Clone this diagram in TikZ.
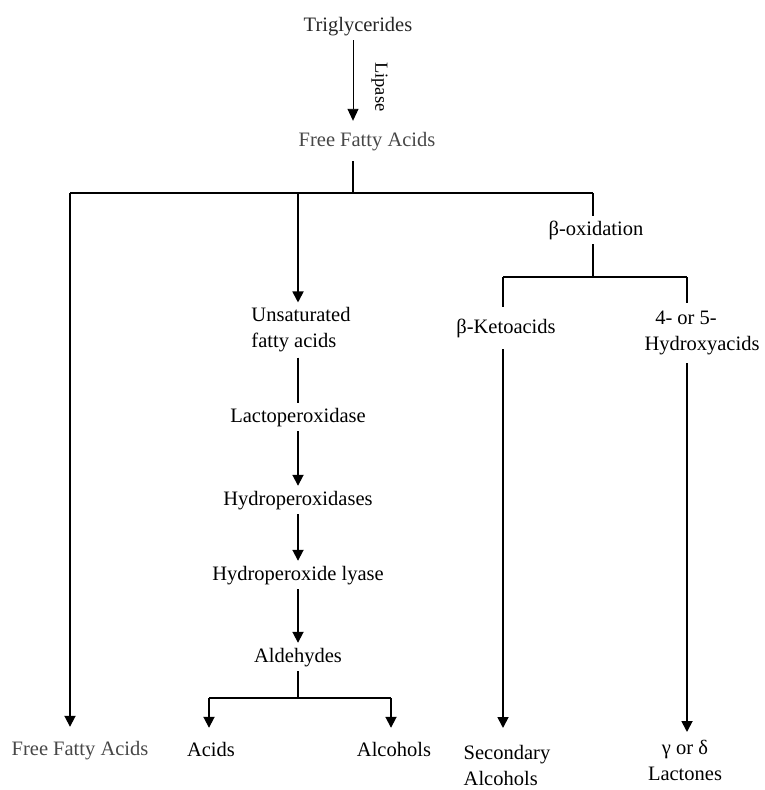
\documentclass[tikz,border=0pt]{standalone}
\usepackage{fontspec}
\setmainfont{Liberation Serif}
\usetikzlibrary{arrows.meta, positioning}

\begin{document}
\begin{tikzpicture}[x=1pt, y=-1pt,
    every node/.style={font=\fontsize{20.5}{26}\selectfont, inner xsep=0pt, inner ysep=5pt},
    lbl/.style={text height=14pt, text depth=4pt, anchor=base},
    conn/.style={line width=1.8pt},
    arr/.style={conn, -{Triangle[width=11pt, length=11pt]}},
    thinarr/.style={line width=0.9pt, -{Triangle[width=11pt, length=12pt]}},
    grey/.style={text=black!72}]
    \useasboundingbox (0,0) rectangle (764,790);

    \node[lbl, text=black!85] (trig) at (358,31) {Triglycerides};
    \node[lbl, grey, inner ysep=11pt] (ffa) at (367,146) {Free Fatty Acids};

    \node[align=left] (unsat) at (301,330) {Unsaturated\\fatty acids};
    \node[lbl] (lacto) at (298,422) {Lactoperoxidase};
    \node[lbl] (hperox) at (298,505) {Hydroperoxidases};
    \node[lbl] (lyase) at (298,580) {Hydroperoxide lyase};
    \node[lbl] (ald) at (298,662) {Aldehydes};

    \node[lbl] (betaox) at (596,235) {β-oxidation};
    \node[lbl, inner ysep=12pt] (keto) at (506,333) {β-Ketoacids};
    \node[align=center, inner ysep=8pt] (hydroxy) at (702,333) {4- or 5-\hspace*{32pt}\\Hydroxyacids};

    \node[lbl, grey, inner ysep=14pt] (ffaL) at (80,755) {Free Fatty Acids};
    \node[lbl, inner ysep=14pt] (acids) at (211,756) {Acids};
    \node[lbl, inner ysep=14pt] (alcohols) at (394,756) {Alcohols};
    \node[align=left, anchor=north, inner ysep=17pt] (secalc) at (507,728) {Secondary\\Alcohols};
    \node[align=center, anchor=north, inner ysep=8pt] (lact) at (685,732) {γ or δ\\Lactones};

    \coordinate (split) at (353,193);
    \coordinate (bleft) at (70,193);
    \coordinate (bmid) at (298,193);
    \coordinate (bright) at (593,193);
    \coordinate (fork) at (593,277);
    \coordinate (kfork) at (503,277);
    \coordinate (hfork) at (687,277);
    \coordinate (afork) at (298,698);
    \coordinate (acfork) at (209,698);
    \coordinate (alfork) at (391,698);

    \draw[thinarr] (split |- trig.south) -- node[pos=0.58, sloped, anchor=south, inner ysep=18pt,
        font=\fontsize{18.5}{22}\selectfont] (lipase) {Lipase} (split |- ffa.north);
    \draw[conn] (split |- ffa.south) -- (split);
    \draw[conn] (bleft) -- (bright);
    \draw[arr] (bleft) -- (bleft |- ffaL.north);
    \draw[arr] (bmid) -- (bmid |- unsat.north);
    \draw[conn] (bright) -- (bright |- betaox.north);
    \draw[conn] (bright |- betaox.south) -- (fork);
    \draw[conn] (kfork) -- (hfork);
    \draw[conn] (kfork) -- (kfork |- keto.north);
    \draw[conn] (hfork) -- (hfork |- hydroxy.north);
    \draw[arr] (kfork |- keto.south) -- (kfork |- secalc.north);
    \draw[arr] (hfork |- hydroxy.south) -- (hfork |- lact.north);

    \draw[conn] (unsat.south -| lacto) -- (lacto);
    \draw[arr] (lacto) -- (hperox);
    \draw[arr] (hperox) -- (lyase);
    \draw[arr] (lyase) -- (ald);
    \draw[conn] (ald) -- (afork);
    \draw[conn] (acfork) -- (alfork);
    \draw[arr] (acfork) -- (acfork |- acids.north);
    \draw[arr] (alfork) -- (alfork |- alcohols.north);
\end{tikzpicture}
\end{document}
